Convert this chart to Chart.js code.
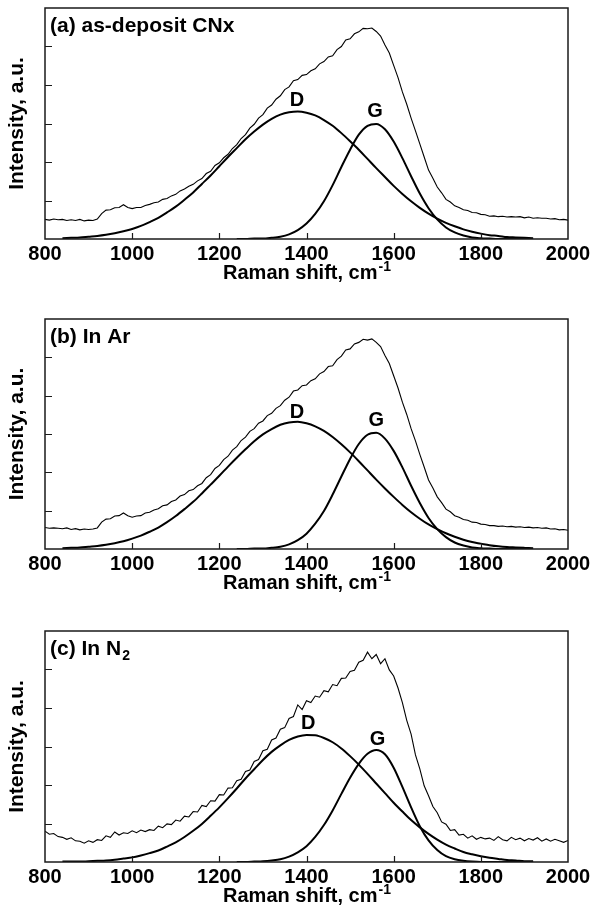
<!DOCTYPE html>
<html>
<head>
<title>Raman spectra of CNx films</title>
<script src="https://cdn.jsdelivr.net/npm/chart.js"></script>
<style>
body { margin: 0; background: #fff; width: 594px; height: 909px; position: relative; overflow: hidden; }
.panel { position: absolute; left: 0; width: 594px; }
</style>
</head>
<body>
<div class="panel" style="top:0px"><canvas id="chartA" width="594" height="290"></canvas></div>
<div class="panel" style="top:311px"><canvas id="chartB" width="594" height="289"></canvas></div>
<div class="panel" style="top:623px"><canvas id="chartC" width="594" height="290"></canvas></div>

<script>
// x grids (Raman shift, cm-1)
const ramanStart = 800, ramanStep = 10;   // measured spectra
const bandDStart = 840, bandStep = 20;    // fitted D band
const bandGStart = 1240;                  // fitted G band
const xTicks = [800, 1000, 1200, 1400, 1600, 1800, 2000];

// (a) as-deposit CNx
const specA = [
  0.51, 0.49, 0.52, 0.50, 0.51, 0.48, 0.50, 0.48, 0.51, 0.47,
  0.49, 0.48, 0.52, 0.66, 0.75, 0.76, 0.81, 0.82, 0.89, 0.82,
  0.79, 0.82, 0.82, 0.87, 0.90, 0.94, 0.96, 1.03, 1.05, 1.12,
  1.16, 1.25, 1.30, 1.37, 1.42, 1.51, 1.57, 1.70, 1.76, 1.91,
  1.98, 2.11, 2.20, 2.35, 2.45, 2.61, 2.71, 2.88, 2.98, 3.14,
  3.23, 3.40, 3.48, 3.63, 3.72, 3.88, 3.95, 4.11, 4.14, 4.25,
  4.27, 4.37, 4.42, 4.55, 4.61, 4.73, 4.76, 4.92, 5.00, 5.17,
  5.20, 5.33, 5.38, 5.47, 5.46, 5.48, 5.39, 5.27, 5.04, 4.83,
  4.51, 4.19, 3.82, 3.50, 3.14, 2.81, 2.47, 2.13, 1.79, 1.58,
  1.35, 1.20, 1.03, 0.96, 0.86, 0.82, 0.76, 0.74, 0.69, 0.68,
  0.64, 0.63, 0.59, 0.60, 0.58, 0.59, 0.57, 0.58, 0.57, 0.58,
  0.55, 0.57, 0.54, 0.55, 0.54, 0.54, 0.52, 0.53, 0.50, 0.51, 0.49
];
const bandDA = [
  0.02, 0.03, 0.04, 0.06, 0.08, 0.11, 0.15, 0.20, 0.26, 0.34,
  0.44, 0.55, 0.69, 0.84, 1.02, 1.21, 1.43, 1.65, 1.89, 2.13,
  2.36, 2.59, 2.79, 2.97, 3.12, 3.23, 3.29, 3.31, 3.28, 3.21,
  3.09, 2.94, 2.75, 2.54, 2.32, 2.08, 1.84, 1.61, 1.38, 1.17,
  0.98, 0.81, 0.66, 0.53, 0.42, 0.33, 0.25, 0.19, 0.14, 0.10,
  0.08, 0.05, 0.04, 0.03, 0.02
];
const bandGA = [
  0.00, 0.00, 0.01, 0.01, 0.03, 0.06, 0.12, 0.23, 0.40, 0.65,
  0.98, 1.40, 1.87, 2.32, 2.71, 2.94, 2.99, 2.85, 2.53, 2.10,
  1.63, 1.18, 0.80, 0.51, 0.30, 0.17, 0.09, 0.04, 0.02, 0.01,
  0.00, 0.00, 0.00, 0.00, 0.00
];

// (b) In Ar
const specB = [
  0.56, 0.54, 0.55, 0.54, 0.53, 0.55, 0.51, 0.53, 0.50, 0.52,
  0.51, 0.52, 0.55, 0.70, 0.78, 0.79, 0.86, 0.87, 0.94, 0.87,
  0.83, 0.86, 0.87, 0.94, 0.96, 1.02, 1.05, 1.13, 1.15, 1.24,
  1.28, 1.38, 1.42, 1.52, 1.55, 1.65, 1.71, 1.86, 1.94, 2.10,
  2.18, 2.33, 2.42, 2.58, 2.67, 2.83, 2.92, 3.07, 3.14, 3.28,
  3.34, 3.48, 3.54, 3.67, 3.74, 3.88, 3.96, 4.12, 4.15, 4.26,
  4.28, 4.39, 4.44, 4.57, 4.63, 4.76, 4.78, 4.94, 5.03, 5.19,
  5.22, 5.35, 5.39, 5.47, 5.45, 5.48, 5.39, 5.28, 5.05, 4.84,
  4.52, 4.20, 3.83, 3.51, 3.14, 2.82, 2.47, 2.14, 1.80, 1.59,
  1.36, 1.21, 1.04, 0.97, 0.87, 0.83, 0.77, 0.75, 0.70, 0.69,
  0.65, 0.64, 0.61, 0.61, 0.59, 0.60, 0.58, 0.59, 0.57, 0.58,
  0.56, 0.57, 0.55, 0.56, 0.54, 0.55, 0.52, 0.53, 0.50, 0.51, 0.49
];
const bandDB = [
  0.02, 0.03, 0.04, 0.06, 0.08, 0.11, 0.15, 0.20, 0.27, 0.35,
  0.45, 0.56, 0.70, 0.86, 1.04, 1.23, 1.45, 1.68, 1.91, 2.15,
  2.38, 2.60, 2.81, 2.99, 3.13, 3.24, 3.30, 3.32, 3.28, 3.20,
  3.08, 2.92, 2.73, 2.52, 2.29, 2.05, 1.81, 1.58, 1.36, 1.15,
  0.96, 0.79, 0.64, 0.52, 0.41, 0.32, 0.24, 0.18, 0.14, 0.10,
  0.07, 0.05, 0.04, 0.03, 0.02
];
const bandGB = [
  0.00, 0.00, 0.01, 0.01, 0.03, 0.06, 0.12, 0.23, 0.40, 0.66,
  0.99, 1.42, 1.89, 2.35, 2.74, 2.98, 3.03, 2.88, 2.56, 2.13,
  1.65, 1.20, 0.81, 0.52, 0.31, 0.17, 0.09, 0.04, 0.02, 0.01,
  0.00, 0.00, 0.00, 0.00, 0.00
];

// (c) In N2
const specC = [
  0.80, 0.72, 0.74, 0.66, 0.64, 0.59, 0.63, 0.55, 0.54, 0.49,
  0.55, 0.51, 0.58, 0.56, 0.68, 0.64, 0.78, 0.70, 0.76, 0.74,
  0.81, 0.76, 0.83, 0.79, 0.84, 0.82, 0.93, 0.89, 0.99, 0.97,
  1.09, 1.06, 1.19, 1.17, 1.31, 1.30, 1.47, 1.44, 1.59, 1.58,
  1.75, 1.74, 1.92, 1.93, 2.11, 2.15, 2.35, 2.39, 2.61, 2.66,
  2.89, 2.93, 3.17, 3.22, 3.45, 3.49, 3.73, 3.78, 4.08, 3.96,
  4.19, 4.14, 4.31, 4.28, 4.45, 4.42, 4.61, 4.58, 4.77, 4.78,
  4.95, 4.98, 5.19, 5.24, 5.45, 5.28, 5.39, 5.15, 5.28, 4.99,
  4.83, 4.52, 4.14, 3.68, 3.32, 2.78, 2.42, 1.98, 1.72, 1.44,
  1.28, 1.04, 0.98, 0.82, 0.84, 0.70, 0.72, 0.62, 0.68, 0.59,
  0.64, 0.60, 0.62, 0.56, 0.66, 0.58, 0.55, 0.64, 0.58, 0.62,
  0.55, 0.61, 0.57, 0.63, 0.54, 0.60, 0.54, 0.59, 0.55, 0.51, 0.56
];
const bandDC = [
  0.01, 0.01, 0.01, 0.02, 0.03, 0.04, 0.06, 0.09, 0.12, 0.17,
  0.23, 0.30, 0.40, 0.51, 0.65, 0.81, 0.99, 1.20, 1.42, 1.66,
  1.91, 2.17, 2.41, 2.65, 2.86, 3.03, 3.17, 3.26, 3.30, 3.29,
  3.22, 3.11, 2.95, 2.75, 2.53, 2.29, 2.04, 1.79, 1.54, 1.31,
  1.09, 0.90, 0.73, 0.58, 0.45, 0.35, 0.26, 0.20, 0.15, 0.11,
  0.08, 0.05, 0.04, 0.02, 0.02
];
const bandGC = [
  0.00, 0.00, 0.01, 0.02, 0.04, 0.07, 0.14, 0.25, 0.41, 0.65,
  0.96, 1.34, 1.77, 2.19, 2.55, 2.81, 2.91, 2.80, 2.45, 1.95,
  1.42, 0.93, 0.56, 0.31, 0.15, 0.07, 0.03, 0.01, 0.00, 0.00,
  0.00, 0.00, 0.00, 0.00, 0.00
];

// band label anchors [D, G] in data units
const peakNames = ['D', 'G'];
const peakXA = [1378, 1557], peakYA = [3.60, 3.32];
const peakXB = [1378, 1560], peakYB = [3.55, 3.35];
const peakXC = [1404, 1563], peakYC = [3.59, 3.19];

const FONT = '"Liberation Sans", Arial, Helvetica, sans-serif';

function toPoints(start, step, values) {
  return values.map((v, i) => ({ x: start + i * step, y: v }));
}

// frame, inward ticks, titles and band labels
const framePlugin = {
  id: 'frame',
  afterDatasetsDraw(chart, args, opts) {
    const { ctx, chartArea: a } = chart;
    const xs = chart.scales.x, ys = chart.scales.y;
    ctx.save();
    ctx.strokeStyle = '#1a1a1a';
    ctx.lineWidth = 1.5;
    ctx.strokeRect(a.left, a.top, a.right - a.left, a.bottom - a.top);

    ctx.lineWidth = 1.2;
    ctx.beginPath();
    xs.ticks.forEach(t => {
      if (t.value <= xs.min || t.value >= xs.max) return;
      const px = Math.round(xs.getPixelForValue(t.value)) + 0.5;
      ctx.moveTo(px, a.bottom);
      ctx.lineTo(px, a.bottom - 6);
    });
    ys.ticks.forEach(t => {
      if (t.value <= ys.min || t.value >= ys.max) return;
      const py = Math.round(ys.getPixelForValue(t.value)) + 0.5;
      ctx.moveTo(a.left, py);
      ctx.lineTo(a.left + 7, py);
    });
    ctx.stroke();

    ctx.fillStyle = '#000';
    // panel title, with optional subscript
    ctx.font = 'bold 21px ' + FONT;
    ctx.textAlign = 'left';
    ctx.textBaseline = 'alphabetic';
    const tx = a.left + 5, ty = a.top + 24;
    ctx.fillText(opts.title, tx, ty);
    if (opts.sub) {
      const w = ctx.measureText(opts.title).width;
      ctx.font = 'bold 14px ' + FONT;
      ctx.fillText(opts.sub, tx + w + 1, ty + 5);
    }

    // band labels
    ctx.font = 'bold 20px ' + FONT;
    ctx.textAlign = 'center';
    ctx.textBaseline = 'middle';
    peakNames.forEach((n, i) => {
      ctx.fillText(n, xs.getPixelForValue(opts.peakX[i]), ys.getPixelForValue(opts.peakY[i]));
    });

    // x axis title with superscript
    const main = 'Raman shift, cm', sup = '-1';
    ctx.font = 'bold 20px ' + FONT;
    const w1 = ctx.measureText(main).width;
    ctx.font = 'bold 14px ' + FONT;
    const w2 = ctx.measureText(sup).width;
    const x0 = (a.left + a.right) / 2 - (w1 + w2) / 2;
    const by = a.bottom + 40;
    ctx.textAlign = 'left';
    ctx.textBaseline = 'alphabetic';
    ctx.font = 'bold 20px ' + FONT;
    ctx.fillText(main, x0, by);
    ctx.font = 'bold 14px ' + FONT;
    ctx.fillText(sup, x0 + w1 + 1, by - 8);

    // y axis title
    ctx.translate(17, (a.top + a.bottom) / 2);
    ctx.rotate(-Math.PI / 2);
    ctx.font = 'bold 21px ' + FONT;
    ctx.textAlign = 'center';
    ctx.textBaseline = 'middle';
    ctx.fillText('Intensity, a.u.', 0, 0);
    ctx.restore();
  }
};

function makePanel(id, spec, bandD, bandG, title, sub, peakX, peakY) {
  const el = document.getElementById(id);
  el.style.width = el.width + 'px';
  el.style.height = el.height + 'px';
  return new Chart(el, {
    type: 'line',
    data: {
      datasets: [
        { data: toPoints(ramanStart, ramanStep, spec), borderColor: '#000', borderWidth: 1.1, tension: 0 },
        { data: toPoints(bandDStart, bandStep, bandD), borderColor: '#000', borderWidth: 2, cubicInterpolationMode: 'monotone' },
        { data: toPoints(bandGStart, bandStep, bandG), borderColor: '#000', borderWidth: 2, cubicInterpolationMode: 'monotone' }
      ]
    },
    options: {
      responsive: false,
      animation: false,
      devicePixelRatio: 1,
      layout: { padding: { top: 8, right: 26, left: 0, bottom: 0 } },
      elements: { point: { radius: 0 } },
      plugins: {
        legend: { display: false },
        tooltip: { enabled: false },
        frame: { title: title, sub: sub, peakX: peakX, peakY: peakY }
      },
      scales: {
        x: {
          type: 'linear',
          min: 800, max: 2000,
          afterBuildTicks: s => { s.ticks = xTicks.map(v => ({ value: v })); },
          afterFit: s => { s.height = 51; },
          grid: { display: false, drawTicks: false },
          border: { display: false },
          ticks: {
            color: '#000', padding: 3, maxRotation: 0,
            font: { family: FONT, size: 20, weight: 'bold' },
            callback: v => String(v)
          }
        },
        y: {
          min: 0, max: 6,
          ticks: { display: false, stepSize: 1 },
          afterFit: s => { s.width = 45; },
          grid: { display: false, drawTicks: false },
          border: { display: false }
        }
      }
    },
    plugins: [framePlugin]
  });
}

makePanel('chartA', specA, bandDA, bandGA, '(a) as-deposit CNx', '', peakXA, peakYA);
makePanel('chartB', specB, bandDB, bandGB, '(b) In Ar', '', peakXB, peakYB);
makePanel('chartC', specC, bandDC, bandGC, '(c) In N', '2', peakXC, peakYC);
</script>
</body>
</html>
